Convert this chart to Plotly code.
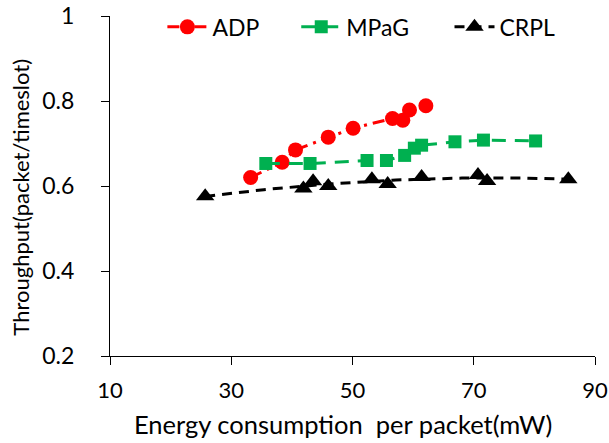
import numpy as np
import plotly.graph_objects as go

# Energy consumption per packet (mW) and throughput (packet/timeslot)
adp_energy = [33.2, 38.4, 40.6, 46.0, 50.1, 56.6, 58.3, 59.4, 62.1]
adp_thru = [0.620, 0.656, 0.685, 0.715, 0.736, 0.759, 0.755, 0.779, 0.789]

mpag_energy = [35.7, 43.0, 52.4, 55.6, 58.6, 60.2, 61.4, 66.9, 71.6, 80.2]
mpag_thru = [0.653, 0.653, 0.660, 0.660, 0.672, 0.689, 0.696, 0.704, 0.708, 0.706]

crpl_energy = [25.7, 41.9, 43.5, 46.0, 53.2, 55.8, 61.4, 70.7, 72.2, 85.6]
crpl_thru = [0.576, 0.594, 0.611, 0.600, 0.616, 0.605, 0.621, 0.626, 0.612, 0.616]

x_ticks = [10, 30, 50, 70, 90]
y_ticks = [0.2, 0.4, 0.6, 0.8, 1.0]
y_tick_text = ["0.2", "0.4", "0.6", "0.8", "1"]

FONT = "Lato, Calibri, sans-serif"
RED = "#ff0000"
GREEN = "#00b050"
BLACK = "#000000"

RED_DASH = "12px,6px,3px,6px"
GREEN_DASH = "14px,9px"
BLACK_DASH = "10px,7px"

fig = go.Figure()

fig.add_trace(go.Scatter(
    x=adp_energy, y=adp_thru, name="ADP", mode="lines+markers",
    legend="legend",
    line=dict(color=RED, width=3, dash=RED_DASH),
    marker=dict(symbol="circle", size=15, color=RED),
))

fig.add_trace(go.Scatter(
    x=mpag_energy, y=mpag_thru, name="MPaG", mode="lines+markers",
    legend="legend2",
    line=dict(color=GREEN, width=3, dash=GREEN_DASH),
    marker=dict(symbol="square", size=13, color=GREEN),
))

# CRPL: second-order trend line fitted to the measured points
coef = np.polyfit(crpl_energy, crpl_thru, 2)
fit_x = np.linspace(min(crpl_energy), max(crpl_energy), 100)
fit_y = np.polyval(coef, fit_x)
fig.add_trace(go.Scatter(
    x=fit_x, y=fit_y, mode="lines", showlegend=False, hoverinfo="skip",
    line=dict(color=BLACK, width=3, dash=BLACK_DASH),
))
fig.add_trace(go.Scatter(
    x=crpl_energy, y=crpl_thru, mode="markers", showlegend=False,
    marker=dict(symbol="triangle-up", size=16, color=BLACK),
))
# legend entry for CRPL (line + marker)
fig.add_trace(go.Scatter(
    x=[None], y=[None], name="CRPL", mode="lines+markers",
    legend="legend3",
    line=dict(color=BLACK, width=3, dash=BLACK_DASH),
    marker=dict(symbol="triangle-up", size=16, color=BLACK),
))


def legend_box(xpos):
    return dict(
        orientation="h", x=xpos, y=0.968, xanchor="left", yanchor="middle",
        bgcolor="rgba(0,0,0,0)", font=dict(size=23), itemwidth=40,
    )


fig.update_layout(
    width=609, height=443,
    margin=dict(l=110, r=14, t=16, b=87, autoexpand=False),
    paper_bgcolor="white", plot_bgcolor="white",
    font=dict(family=FONT, size=22, color="black"),
    showlegend=True,
    legend=legend_box(0.108),
    legend2=legend_box(0.384),
    legend3=legend_box(0.700),
)

fig.update_xaxes(
    range=[10, 90], tickvals=x_ticks, ticks="outside", ticklen=8,
    tickcolor="black", showline=True, linecolor="black", linewidth=1,
    showgrid=False, zeroline=False, ticklabelstandoff=7, automargin=False,
    tickfont=dict(size=22),
)
fig.update_yaxes(
    range=[0.2, 1.0], tickvals=y_ticks, ticktext=y_tick_text,
    ticks="outside", ticklen=8, tickcolor="black", showline=True,
    linecolor="black", linewidth=1, showgrid=False, zeroline=False,
    ticklabelstandoff=22, automargin=False, tickfont=dict(size=23),
)

# axis titles, placed relative to the chart area
fig.add_annotation(
    text="Energy consumption\u00a0 per packet(mW)",
    xref="paper", yref="paper", x=0.48, y=-0.2,
    xanchor="center", yanchor="middle", showarrow=False,
    font=dict(size=25.5),
)
fig.add_annotation(
    text="Throughput(packet/timeslot)", textangle=-90,
    xref="paper", yref="paper", x=-0.184, y=0.468,
    xanchor="center", yanchor="middle", showarrow=False,
    font=dict(size=22),
)

fig.write_html("out.html")
